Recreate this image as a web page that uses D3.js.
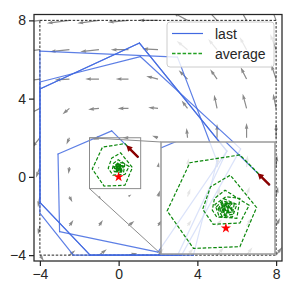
<!DOCTYPE html>
<html>
<head>
<meta charset="utf-8">
<script src="https://cdn.jsdelivr.net/npm/d3@7"></script>
<style>
  body { margin: 0; background: #fff; }
  svg { display: block; font-family: "Liberation Sans", Arial, sans-serif; }
</style>
</head>
<body>
<svg id="chart" width="291" height="291"></svg>
<script>
// quiver grid (tails) and vectors, rows top to bottom
var gridX = [-4, -2.5, -1, 0.5, 2, 3.5, 5, 6.5, 8];
var gridY = [8, 6.5, 5, 3.5, 2, 0.5, -1, -2.5, -4];
var quiverU = [
  [-1.2, -1.15, -1.1, -1.05, -1.0, -0.75, -0.55, -0.4, -0.3],
  [-1.0, -1.0, -0.95, -0.9, -0.8, -0.55, -0.45, -0.35, -0.3],
  [-0.8, -0.75, -0.7, -0.65, -0.6, -0.45, -0.35, -0.3, -0.25],
  [-0.6, -0.35, -0.55, -0.55, -0.5, -0.3, -0.15, -0.2, -0.15],
  [-0.4, -0.15, -0.3, -0.3, -0.3, -0.05, 0.0, 0.0, 0.0],
  [-0.2, -0.05, -0.05, 0.05, 0.05, 0.05, 0.05, 0.05, 0.05],
  [-0.1, 0.15, 0.1, 0.15, 0.1, 0.15, 0.15, 0.15, 0.1],
  [-0.1, 0.2, 0.2, 0.3, 0.2, 0.2, 0.25, 0.25, 0.2],
  [0.2, 0.3, 0.4, 0.45, 0.3, 0.3, 0.35, 0.3, 0.3]
];
var quiverV = [
  [-0.15, -0.15, -0.15, -0.1, 0.0, 0.4, 0.6, 0.7, 0.8],
  [-0.1, -0.1, -0.1, 0.0, 0.05, 0.45, 0.55, 0.65, 0.8],
  [-0.1, -0.05, 0.0, 0.0, 0.15, 0.45, 0.5, 0.6, 0.75],
  [-0.3, -0.3, -0.05, 0.0, 0.05, 0.4, 0.7, 0.75, 0.75],
  [-0.5, -0.35, -0.1, 0.0, 0.1, 0.5, 0.7, 0.75, 0.7],
  [-0.55, -0.35, -0.1, 0.05, 0.25, 0.45, 0.55, 0.6, 0.6],
  [-0.55, -0.3, -0.15, 0.1, 0.3, 0.4, 0.45, 0.5, 0.5],
  [-0.45, 0.3, 0.3, 0.25, 0.3, 0.3, 0.35, 0.4, 0.4],
  [-0.3, 0.25, 0.3, 0.1, 0.35, 0.35, 0.4, 0.4, 0.4]
];

// "last" iterates
var lastX = [1.00, -0.35, -3.08, -3.00, 2.00, 5.50, 1.06, -4.00, -4.00, -1.45, 3.20, 6.20, 1.10, -4.00, -4.00,
             -2.30, 3.80, 5.00, 2.99, -4.00, -4.00, -1.45, 3.00, 5.50, 1.06, -4.00];
var lastY = [1.00, 2.35, 1.17, -2.80, -3.85, 1.32, 6.84, 4.49, -1.30, -4.00, -4.00, 1.43, 6.15, 4.85, -1.85,
             -4.00, -4.00, 0.80, 6.12, 6.43, -1.30, -4.00, -4.00, 1.32, 6.84, 4.49];

// "average" iterates
var avgX = [1.00, 0.32, -0.82, -1.34, -0.74, 0.32, 0.70,
            0.10, -0.35, -0.53, -0.29, 0.32, 0.53,
            -0.02, -0.26, -0.31, -0.21, 0.25, 0.32,
            0.00, -0.25, -0.15, 0.15, 0.25,
            -0.04, -0.21, -0.09, 0.15, 0.19,
            -0.06, -0.17, -0.05, 0.14, 0.13,
            -0.07, -0.14, -0.01, 0.13, 0.09,
            -0.07, -0.11, 0.01, 0.11, 0.06,
            -0.07, -0.08, 0.02, 0.09, 0.04,
            -0.07, -0.06, 0.03, 0.08, 0.02,
            -0.06, -0.04, 0.04, 0.06, 0.00,
            -0.05, -0.02, 0.03, 0.05, 0.00,
            -0.03, -0.01, 0.03, 0.03, 0.00];
var avgY = [1.00, 1.70, 1.52, 0.40, -0.47, -0.43, 0.48,
            1.23, 0.96, 0.44, 0.09, 0.12, 0.53,
            0.88, 0.69, 0.42, 0.26, 0.23, 0.69,
            0.73, 0.55, 0.26, 0.26, 0.55,
            0.68, 0.50, 0.28, 0.32, 0.57,
            0.63, 0.46, 0.31, 0.38, 0.58,
            0.59, 0.44, 0.33, 0.41, 0.57,
            0.56, 0.43, 0.36, 0.44, 0.57,
            0.53, 0.42, 0.38, 0.46, 0.56,
            0.51, 0.42, 0.40, 0.48, 0.55,
            0.49, 0.42, 0.42, 0.49, 0.54,
            0.47, 0.42, 0.43, 0.48, 0.52,
            0.47, 0.44, 0.45, 0.49, 0.50];

var startPoint = [1, 1];
var startDir = [-1, 1];
var target = [0, 0];
var boxX = [-4, 8], boxY = [-4, 8];
var xTicks = [-4, 0, 4, 8], yTicks = [-4, 0, 4, 8];
var legendLabels = ["last", "average"];
var insetX = [-1.48, 1.12], insetY = [-0.6, 2.0];

var BLUE = "#4169e1", GREEN = "#0a870a", INK = "#262626";

var svg = d3.select("#chart");
var x = d3.scaleLinear().domain([-4.3, 8.3]).range([34, 282]);
var y = d3.scaleLinear().domain([-4.3, 8.3]).range([261, 14.5]);
var xi = d3.scaleLinear().domain(insetX).range([161, 275]);
var yi = d3.scaleLinear().domain(insetY).range([254, 142]);

var defs = svg.append("defs");
defs.append("clipPath").attr("id", "clipMain").append("rect")
    .attr("x", 34).attr("y", 14.5).attr("width", 248).attr("height", 246.5);
defs.append("clipPath").attr("id", "clipInset").append("rect")
    .attr("x", 161).attr("y", 142).attr("width", 114).attr("height", 112);

// arrow polygon, tail at (x0,y0), pixel vector (dx,dy)
function arrowPath(x0, y0, dx, dy, w, hw, hl, hal) {
    var L = Math.hypot(dx, dy);
    if (L < 1e-6) return "";
    var k = L < hl ? L / hl : 1;
    var sw = w * k / 2; hw = hw * k / 2; hl *= k; hal *= k;
    var pts = [[0, -sw], [L - hal, -sw], [L - hl, -hw], [L, 0], [L - hl, hw], [L - hal, sw], [0, sw]];
    var c = dx / L, s = dy / L;
    return "M" + pts.map(function(p) {
        return [(x0 + p[0] * c - p[1] * s).toFixed(2), (y0 + p[0] * s + p[1] * c).toFixed(2)].join(",");
    }).join("L") + "Z";
}

var lastPts = lastX.map(function(v, i) { return [v, lastY[i]]; });
var avgPts = avgX.map(function(v, i) { return [v, avgY[i]]; });

function drawTrajectories(g, sx, sy) {
    // last: segment by segment so repeated legs darken
    for (var i = 0; i < lastPts.length - 1; i++) {
        g.append("line")
            .attr("x1", sx(lastPts[i][0])).attr("y1", sy(lastPts[i][1]))
            .attr("x2", sx(lastPts[i + 1][0])).attr("y2", sy(lastPts[i + 1][1]))
            .attr("stroke", BLUE).attr("stroke-width", 1.2).attr("stroke-opacity", 0.85)
            .attr("stroke-linecap", "round");
    }
    g.append("path")
        .attr("d", d3.line().x(function(d) { return sx(d[0]); }).y(function(d) { return sy(d[1]); })(avgPts))
        .attr("fill", "none").attr("stroke", GREEN).attr("stroke-width", 1.2)
        .attr("stroke-dasharray", "3.5,1.8");
    g.append("path")
        .attr("transform", "translate(" + sx(target[0]) + "," + sy(target[1]) + ")")
        .attr("d", d3.symbol(d3.symbolStar, 32)())
        .attr("fill", "#ff0000");
    var px = sx(startPoint[0]), py = sy(startPoint[1]);
    var dx = sx(startPoint[0] + startDir[0]) - px, dy = sy(startPoint[1] + startDir[1]) - py;
    var n = Math.hypot(dx, dy);
    g.append("path")
        .attr("d", arrowPath(px, py, dx / n * 17, dy / n * 17, 2.4, 6.5, 6, 6))
        .attr("fill", "#8b0000");
}

// main axes content
var main = svg.append("g").attr("clip-path", "url(#clipMain)");

var quiver = main.append("g");
gridY.forEach(function(gy, r) {
    gridX.forEach(function(gx, c) {
        var x0 = x(gx), y0 = y(gy);
        var dx = x(gx + quiverU[r][c]) - x0, dy = y(gy + quiverV[r][c]) - y0;
        quiver.append("path")
            .attr("d", arrowPath(x0, y0, dx, dy, 1.2, 3.6, 6, 5.4))
            .attr("fill", "#8a8a8a");
    });
});

main.append("rect")
    .attr("x", x(boxX[0])).attr("y", y(boxY[1]))
    .attr("width", x(boxX[1]) - x(boxX[0])).attr("height", y(boxY[0]) - y(boxY[1]))
    .attr("fill", "none").attr("stroke", "#222").attr("stroke-width", 1)
    .attr("stroke-dasharray", "2.5,1.6");

drawTrajectories(main, x, y);

// zoom indicator and connectors
main.append("rect")
    .attr("x", x(insetX[0])).attr("y", y(insetY[1]))
    .attr("width", x(insetX[1]) - x(insetX[0])).attr("height", y(insetY[0]) - y(insetY[1]))
    .attr("fill", "none").attr("stroke", "#8c8c8c").attr("stroke-width", 1);
main.append("line")
    .attr("x1", x(insetX[0])).attr("y1", y(insetY[1])).attr("x2", xi(insetX[0])).attr("y2", yi(insetY[1]))
    .attr("stroke", "#8c8c8c").attr("stroke-width", 1);
main.append("line")
    .attr("x1", x(insetX[0])).attr("y1", y(insetY[0])).attr("x2", xi(insetX[0])).attr("y2", yi(insetY[0]))
    .attr("stroke", "#8c8c8c").attr("stroke-width", 1);

// legend
var leg = svg.append("g");
leg.append("rect").attr("x", 167).attr("y", 22).attr("width", 107).attr("height", 45).attr("rx", 3)
    .attr("fill", "#fff").attr("fill-opacity", 0.8).attr("stroke", "#cccccc").attr("stroke-width", 1);
leg.append("line").attr("x1", 172).attr("x2", 203).attr("y1", 33.5).attr("y2", 33.5)
    .attr("stroke", BLUE).attr("stroke-width", 1.2);
leg.append("line").attr("x1", 172).attr("x2", 203).attr("y1", 53.5).attr("y2", 53.5)
    .attr("stroke", "#22a022").attr("stroke-width", 1.3).attr("stroke-dasharray", "3.5,1.8");
leg.selectAll("text.lab").data(legendLabels).enter().append("text")
    .attr("class", "lab")
    .attr("x", 215).attr("y", function(d, i) { return 38.5 + i * 20; })
    .attr("font-size", 14).attr("fill", INK).text(function(d) { return d; });

// spines and axes
svg.append("rect").attr("x", 34).attr("y", 14.5).attr("width", 248).attr("height", 246.5)
    .attr("fill", "none").attr("stroke", INK).attr("stroke-width", 1.25);

var gx = svg.append("g").attr("transform", "translate(0,261)")
    .call(d3.axisBottom(x).tickValues(xTicks).tickSize(5).tickPadding(3));
var gy = svg.append("g").attr("transform", "translate(34,0)")
    .call(d3.axisLeft(y).tickValues(yTicks).tickSize(5).tickPadding(3));
[gx, gy].forEach(function(g) {
    g.select(".domain").remove();
    g.selectAll(".tick line").attr("stroke", INK).attr("stroke-width", 1.25);
    g.selectAll(".tick text").attr("fill", INK).attr("font-size", 14)
        .attr("font-family", "Liberation Sans, Arial, sans-serif");
});

// inset
var inset = svg.append("g");
inset.append("rect").attr("x", 161).attr("y", 142).attr("width", 114).attr("height", 112)
    .attr("fill", "#fff").attr("fill-opacity", 0.78);
var insetContent = inset.append("g").attr("clip-path", "url(#clipInset)");
drawTrajectories(insetContent, xi, yi);
inset.append("rect").attr("x", 161).attr("y", 142).attr("width", 114).attr("height", 112)
    .attr("fill", "none").attr("stroke", "#9a9a9a").attr("stroke-width", 1.5);
</script>
</body>
</html>
